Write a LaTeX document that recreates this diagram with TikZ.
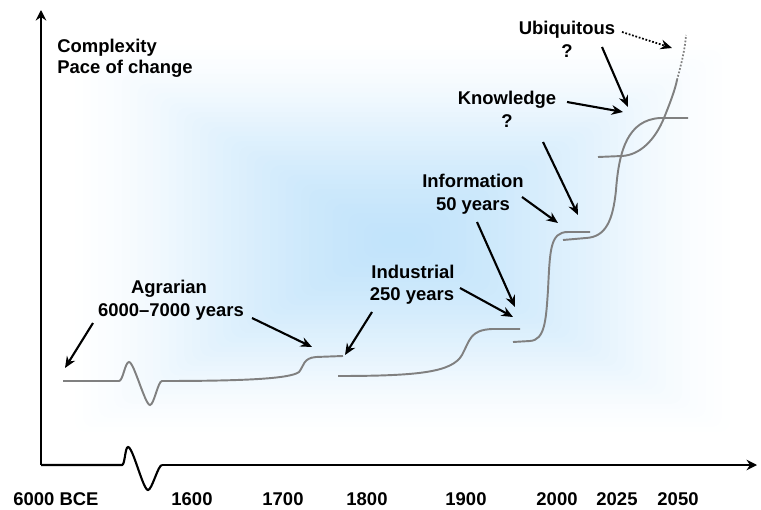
\documentclass[tikz,border=0pt]{standalone}
\usepackage{fontspec}
\setmainfont{Liberation Sans}
\usetikzlibrary{arrows.meta}
\definecolor{bgblue}{RGB}{186,224,250}
\definecolor{curvegray}{RGB}{128,128,128}
\tikzset{
  lbl/.style={font=\bfseries\fontsize{10.5}{12}\selectfont, anchor=base, inner sep=0pt},
  curve/.style={curvegray, line width=1.1pt},
  pointer/.style={line width=1.2pt, -{Stealth[length=6.5pt,width=5.5pt]}},
  axis/.style={line width=1.2pt},
}
\begin{document}
\begin{tikzpicture}[x=0.02cm,y=-0.02cm]
\useasboundingbox (0,0) rectangle (761,510);
% soft background glow
\foreach \i in {0,...,39}
  \fill[bgblue, opacity={0.01+0.0021*\i}, rounded corners=6pt]
    (75+7.8*\i,45+4.8*\i) rectangle (730-8*\i,432-4.7*\i);
% axes
\coordinate (o) at (41,465);
\coordinate (ytop) at (41,10);
\coordinate (xend) at (757,465);
\coordinate (xw1) at (122,465);
\coordinate (xw2) at (162,465);
\draw[axis, -{Stealth[length=6pt,width=6pt,inset=2pt]}] (o) -- (ytop);
\draw[axis] (o) -- (xw1) .. controls (125,465) and (125,447) .. (128,447)
  .. controls (133,447) and (143,490) .. (148,490)
  .. controls (152,490) and (158,465) .. (xw2);
\draw[axis, -{Stealth[length=6pt,width=6pt,inset=2pt]}] (xw2) -- (xend);
\node[lbl, anchor=base west] (cplx1) at (57,53) {Complexity};
\node[lbl, anchor=base west] (cplx2) at (57,74) {Pace of change};
% years
\node[lbl] (y6000) at (56,505) {6000 BCE};
\node[lbl] (y1600) at (192,505) {1600};
\node[lbl] (y1700) at (283,505) {1700};
\node[lbl] (y1800) at (367,505) {1800};
\node[lbl] (y1900) at (466,505) {1900};
\node[lbl] (y2000) at (557,505) {2000};
\node[lbl] (y2025) at (617,505) {2025};
\node[lbl] (y2050) at (678,505) {2050};
% curves
\draw[curve] (63,381) -- (119,381) .. controls (123,381) and (125,362) .. (129,362)
  .. controls (134,362) and (145,405) .. (150,405)
  .. controls (154,405) and (158,381) .. (162,381)
  .. controls (240,381) and (290,379) .. (299,372)
  .. controls (304,366) and (303,358) .. (316,357) -- (343,356);
\draw[curve] (338,376) .. controls (420,376) and (452,372) .. (462,355)
  .. controls (470,340) and (470,330) .. (492,329) -- (520,329);
\draw[curve] (513,342) -- (530,341) .. controls (545,340) and (546,320) .. (548,290)
  .. controls (550,250) and (550,232) .. (568,232) -- (590,232);
\draw[curve] (563,240) -- (586,238) .. controls (606,237) and (613,220) .. (616,190)
  .. controls (619,150) and (628,120) .. (660,118) -- (688,118);
\draw[curve] (598,157) -- (622,156) .. controls (640,155) and (655,140) .. (664,118)
  .. controls (670,103) and (675,90) .. (677,80);
\draw[curve, line width=1pt, dash pattern=on 1pt off 1pt] (677,80) .. controls (681,65) and (685,50) .. (686,35);
% labels
\node[lbl] (agr1) at (169,293) {Agrarian};
\node[lbl] (agr2) at (171,316) {6000--7000 years};
\node[lbl] (ind1) at (413,278) {Industrial};
\node[lbl] (ind2) at (412,300) {250 years};
\node[lbl] (inf1) at (473,188) {Information};
\node[lbl] (inf2) at (473,211) {50 years};
\node[lbl] (knw1) at (507,105) {Knowledge};
\node[lbl] (knw2) at (507,128) {?};
\node[lbl] (ubq1) at (567,35) {Ubiquitous};
\node[lbl] (ubq2) at (567,58) {?};
% pointers
\coordinate (agrLa) at (93,323);  \coordinate (agrLb) at (65,368);
\coordinate (agrRa) at (252,318); \coordinate (agrRb) at (312,347);
\coordinate (indLa) at (372,312); \coordinate (indLb) at (345,355);
\coordinate (indRa) at (460,288); \coordinate (indRb) at (513,317);
\coordinate (infLa) at (477,222); \coordinate (infLb) at (515,307);
\coordinate (infRa) at (522,197); \coordinate (infRb) at (558,223);
\coordinate (knwLa) at (543,142); \coordinate (knwLb) at (578,215);
\coordinate (knwRa) at (567,102); \coordinate (knwRb) at (623,112);
\coordinate (ubqSa) at (602,47);  \coordinate (ubqSb) at (628,107);
\coordinate (ubqDa) at (622,32);  \coordinate (ubqDb) at (672,48);
\draw[pointer] (agrLa) -- (agrLb);
\draw[pointer] (agrRa) -- (agrRb);
\draw[pointer] (indLa) -- (indLb);
\draw[pointer] (indRa) -- (indRb);
\draw[pointer] (infLa) -- (infLb);
\draw[pointer] (infRa) -- (infRb);
\draw[pointer] (knwLa) -- (knwLb);
\draw[pointer] (knwRa) -- (knwRb);
\draw[pointer] (ubqSa) -- (ubqSb);
\draw[pointer, line width=1pt, dash pattern=on 1pt off 1pt] (ubqDa) -- (ubqDb);
\end{tikzpicture}
\end{document}
